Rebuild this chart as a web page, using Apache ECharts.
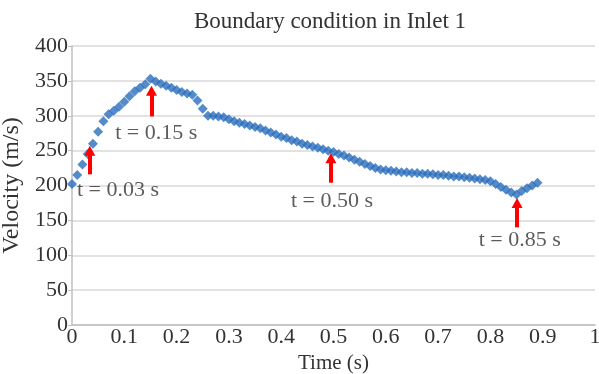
<!DOCTYPE html>
<html>
<head>
<meta charset="utf-8">
<script src="https://cdn.jsdelivr.net/npm/echarts@6/dist/echarts.min.js"></script>
<style>html,body{margin:0;padding:0;background:#fff;}#c{width:599px;height:374px;}</style>
</head>
<body>
<div id="c"></div>
<script>
var times = [0.00,0.01,0.02,0.03,0.04,0.05,0.06,0.07,0.08,0.09,0.10,0.11,0.12,0.13,0.14,0.15,0.16,0.17,0.18,0.19,0.20,0.21,0.22,0.23,0.24,0.25,0.26,0.27,0.28,0.29,0.30,0.31,0.32,0.33,0.34,0.35,0.36,0.37,0.38,0.39,0.40,0.41,0.42,0.43,0.44,0.45,0.46,0.47,0.48,0.49,0.50,0.51,0.52,0.53,0.54,0.55,0.56,0.57,0.58,0.59,0.60,0.61,0.62,0.63,0.64,0.65,0.66,0.67,0.68,0.69,0.70,0.71,0.72,0.73,0.74,0.75,0.76,0.77,0.78,0.79,0.80,0.81,0.82,0.83,0.84,0.85,0.86,0.87,0.88,0.89];
var velocity = [202,215,230,245,260,277,292,302,307,313,320,328,335,340,345,353,349,346,343,340,337,334,332,330,322,310,300,300,299,298,295,292,290,288,286,284,282,279,276,273,270,268,265,263,260,258,256,254,252,250,248,245,243,240,237,234,231,228,225,223,222,221,220,219,219,218,218,217,217,216,215,215,214,213,213,212,211,210,209,208,206,202,198,194,190,187,192,196,200,204];
var xTicks = [0,0.1,0.2,0.3,0.4,0.5,0.6,0.7,0.8,0.9,1];
var yTicks = [0,50,100,150,200,250,300,350,400];
var arrowTimes = [0.034,0.152,0.495,0.851];
var arrowFrom = [216,299,204,140];
var arrowTo = [250,336,239,175];
var noteText = ['t = 0.03 s','t = 0.15 s','t = 0.50 s','t = 0.85 s'];
var noteTimes = [0.088,0.161,0.497,0.856];
var noteValues = [193,275,177,122];

var FONT = '"Liberation Serif", "DejaVu Serif", serif';
var TXT = '#333333';
var chart = echarts.init(document.getElementById('c'), null, {renderer:'canvas'});
var pts = times.map(function(t,i){return [t, velocity[i]];});
var arrows = arrowTimes.map(function(t,i){
  return [{coord:[t, arrowFrom[i]], symbol:'none'}, {coord:[t, arrowTo[i]], symbol:'triangle', symbolSize:[11,10]}];
});
var notes = noteTimes.map(function(t,i){return {value:[t, noteValues[i]], name:noteText[i]};});

chart.setOption({
  animation:false,
  title:{text:'Boundary condition in Inlet 1', left:325, top:5, textAlign:'center',
    textStyle:{fontFamily:FONT, fontSize:23, fontWeight:'normal', color:TXT}},
  grid:{left:72, right:4, top:46, bottom:49, containLabel:false, outerBoundsMode:'none'},
  xAxis:{type:'value', min:0, max:1, interval:0.1,
    name:'Time (s)', nameLocation:'middle', nameGap:25,
    nameTextStyle:{fontFamily:FONT, fontSize:21, color:TXT},
    axisLine:{show:true, lineStyle:{color:'#bfbfbf', width:1.5}},
    axisTick:{show:false},
    splitLine:{show:false},
    axisLabel:{fontFamily:FONT, fontSize:22, color:TXT, margin:1,
      formatter:function(v){return String(Math.round(v*10)/10);}}
  },
  yAxis:{type:'value', min:0, max:400, interval:50,
    name:'Velocity (m/s)', nameLocation:'middle', nameGap:42,
    nameTextStyle:{fontFamily:FONT, fontSize:24, color:TXT},
    axisLine:{show:true, lineStyle:{color:'#bfbfbf', width:1.5}},
    axisTick:{show:true, inside:false, length:4, lineStyle:{color:'#bfbfbf'}},
    splitLine:{show:true, lineStyle:{color:'#d9d9d9', width:1.5}},
    axisLabel:{fontFamily:FONT, fontSize:22, color:TXT, margin:4}
  },
  series:[
    {type:'scatter', data:pts, symbol:'diamond', symbolSize:10,
      itemStyle:{color:'#2a6ebd'}, z:3},
    {type:'scatter', data:notes, symbolSize:0, silent:true,
      label:{show:true, position:'inside', formatter:function(p){return p.name;},
        fontFamily:FONT, fontSize:22, color:TXT},
      markLine:{silent:true, animation:false, symbol:['none','triangle'],
        label:{show:false},
        lineStyle:{color:'#ff0000', width:4, type:'solid'},
        data:arrows}, z:4}
  ]
});
</script>
</body>
</html>
